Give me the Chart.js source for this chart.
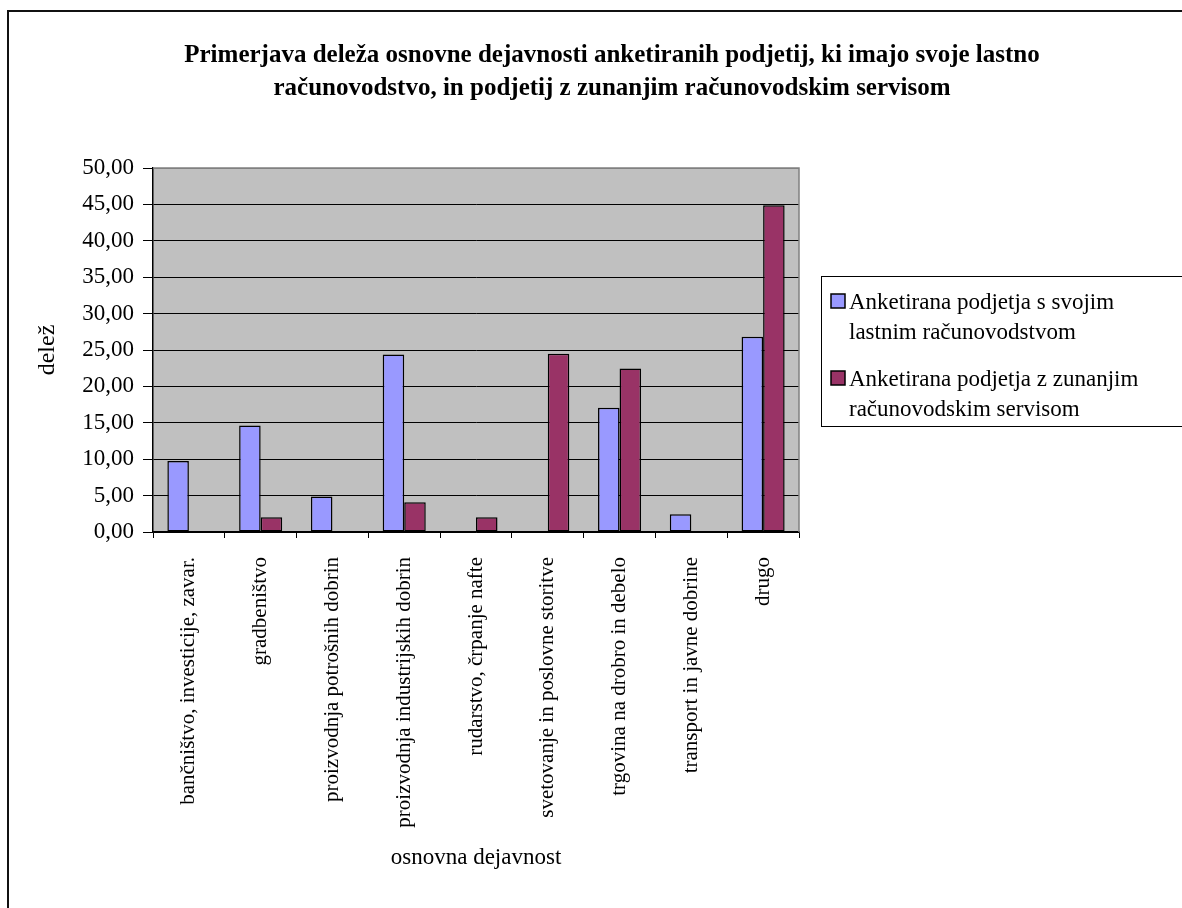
<!DOCTYPE html>
<html>
<head>
<meta charset="utf-8">
<script src="https://cdn.jsdelivr.net/npm/chart.js@4.4.1/dist/chart.umd.min.js"></script>
<style>
  html, body { margin: 0; padding: 0; background: #fff; }
  canvas { display: block; }
</style>
</head>
<body>
<canvas id="dejavnostChart" width="1182" height="908"></canvas>
<script>
// Data (delež v %)
const categories = [
  "bančništvo, investicije, zavar.",
  "gradbeništvo",
  "proizvodnja potrošnih dobrin",
  "proizvodnja industrijskih dobrin",
  "rudarstvo, črpanje nafte",
  "svetovanje in poslovne storitve",
  "trgovina na drobro in debelo",
  "transport in javne dobrine",
  "drugo"
];
const lastnoRacunovodstvo = [9.76, 14.63, 4.88, 24.39, 0, 0, 17.07, 2.44, 26.83];
const zunanjiServis = [0, 2.04, 0, 4.08, 2.04, 24.49, 22.45, 0, 44.90];
const seriesLines = [
  ["Anketirana podjetja s svojim", "lastnim računovodstvom"],
  ["Anketirana podjetja z zunanjim", "računovodskim servisom"]
];
const titleLines = [
  "Primerjava deleža osnovne dejavnosti anketiranih podjetij, ki imajo svoje lastno",
  "računovodstvo, in podjetij z zunanjim računovodskim servisom"
];
const yMin = 0, yMax = 50, yStep = 5;

const FONT = "'Liberation Serif', 'Times New Roman', serif";

// white page, outer frame, grey plot background
const backdrop = {
  id: "backdrop",
  beforeDraw(chart) {
    const { ctx, chartArea: a } = chart;
    ctx.save();
    ctx.fillStyle = "#fff";
    ctx.fillRect(0, 0, chart.width, chart.height);
    ctx.strokeStyle = "#111";
    ctx.lineWidth = 2;
    ctx.strokeRect(8, 11, chart.width + 20, chart.height + 20);
    ctx.fillStyle = "#C0C0C0";
    ctx.fillRect(a.left, a.top, a.right - a.left, a.bottom - a.top);
    ctx.restore();
  },
  afterDraw(chart) {
    const { ctx, chartArea: a } = chart;
    ctx.save();
    ctx.strokeStyle = "#808080";
    ctx.lineWidth = 1.5;
    ctx.beginPath();
    ctx.moveTo(a.left, a.top);
    ctx.lineTo(a.right, a.top);
    ctx.lineTo(a.right, a.bottom);
    ctx.stroke();
    ctx.restore();
  }
};

// two-line bold heading
const heading = {
  id: "heading",
  afterDraw(chart) {
    const { ctx } = chart;
    ctx.save();
    ctx.fillStyle = "#000";
    ctx.font = "bold 25px " + FONT;
    ctx.textAlign = "center";
    ctx.textBaseline = "middle";
    titleLines.forEach((t, i) => ctx.fillText(t, 612, 56 + i * 33));
    ctx.restore();
  }
};

// boxed legend on the right, wrapped labels
const sideLegend = {
  id: "sideLegend",
  afterDraw(chart) {
    const { ctx } = chart;
    const box = { x: 821.5, y: 276.5, w: 400, h: 150 };
    ctx.save();
    ctx.fillStyle = "#fff";
    ctx.fillRect(box.x, box.y, box.w, box.h);
    ctx.strokeStyle = "#000";
    ctx.lineWidth = 1;
    ctx.strokeRect(box.x, box.y, box.w, box.h);
    ctx.font = "23px " + FONT;
    ctx.textBaseline = "alphabetic";
    ctx.textAlign = "left";
    const itemTop = [309, 386];
    chart.data.datasets.forEach((ds, i) => {
      const base = itemTop[i];
      ctx.fillStyle = ds.backgroundColor;
      ctx.fillRect(831, base - 15, 14, 14);
      ctx.strokeStyle = "#000";
      ctx.lineWidth = 1.5;
      ctx.strokeRect(831, base - 15, 14, 14);
      ctx.fillStyle = "#000";
      ds.legendLines.forEach((line, j) => ctx.fillText(line, 849, base + j * 30));
    });
    ctx.restore();
  }
};

const ctx = document.getElementById("dejavnostChart").getContext("2d");
new Chart(ctx, {
  type: "bar",
  data: {
    labels: categories,
    datasets: [
      {
        label: seriesLines[0].join(" "),
        legendLines: seriesLines[0],
        data: lastnoRacunovodstvo,
        backgroundColor: "#9999FF",
        borderColor: "#000",
        borderWidth: 1.5,
        borderSkipped: false
      },
      {
        label: seriesLines[1].join(" "),
        legendLines: seriesLines[1],
        data: zunanjiServis,
        backgroundColor: "#993366",
        borderColor: "#000",
        borderWidth: 1.5,
        borderSkipped: false
      }
    ]
  },
  options: {
    responsive: false,
    animation: false,
    devicePixelRatio: 1,
    categoryPercentage: 0.6,
    barPercentage: 1.0,
    layout: { padding: { top: 168, right: 383, bottom: 0, left: 0 } },
    plugins: {
      legend: { display: false },
      title: { display: false },
      tooltip: { enabled: false }
    },
    scales: {
      x: {
        grid: { offset: true, drawOnChartArea: false, color: "#000", tickLength: 6 },
        border: { color: "#000", width: 1.5 },
        ticks: {
          autoSkip: false, minRotation: 90, maxRotation: 90, padding: 19,
          color: "#000", font: { family: FONT, size: 21 }
        },
        title: {
          display: true, text: "osnovna dejavnost", color: "#000",
          font: { family: FONT, size: 23 }, padding: { top: 0, bottom: 36 }
        },
        afterFit(scale) { scale.height = 376; }
      },
      y: {
        min: yMin, max: yMax,
        grid: {
          color: c => (c.tick && c.tick.value === yMax ? "#808080" : "#000"),
          tickColor: "#000", tickLength: 10, lineWidth: 1
        },
        border: { color: "#000", width: 1.5 },
        ticks: {
          stepSize: yStep, padding: 9, color: "#000",
          font: { family: FONT, size: 23 },
          callback: v => v.toFixed(2).replace(".", ",")
        },
        title: {
          display: true, text: "delež", color: "#000",
          font: { family: FONT, size: 24 }, padding: { top: 33, bottom: 0 }
        },
        afterFit(scale) { scale.width = 153; }
      }
    }
  },
  plugins: [backdrop, heading, sideLegend]
});
</script>
</body>
</html>
